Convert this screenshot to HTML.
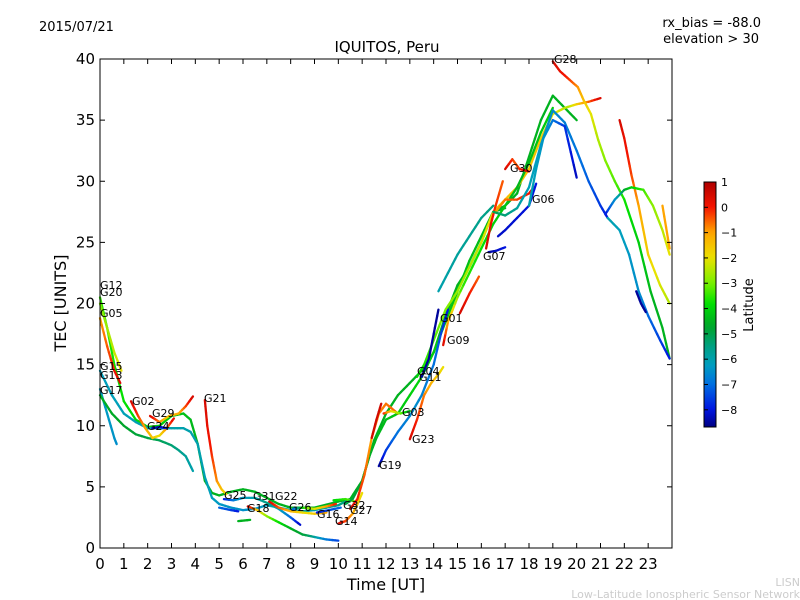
<!DOCTYPE html>
<html><head><meta charset="utf-8"><style>
body{margin:0;background:#fff;}
svg{display:block;font-family:"DejaVu Sans","Liberation Sans",sans-serif;}
</style></head><body>
<svg id="chart" width="800" height="600" viewBox="0 0 800 600">
<defs><linearGradient id="jet" x1="0" y1="1" x2="0" y2="0"></linearGradient></defs>
<rect x="0" y="0" width="800" height="600" fill="#fff"/>
<text x="39" y="31" font-size="13">2015/07/21</text>
<text x="761" y="27" font-size="13" text-anchor="end">rx_bias = -88.0</text>
<text x="759" y="43" font-size="13" text-anchor="end">elevation &gt; 30</text>
<text x="387" y="52" font-size="15" text-anchor="middle">IQUITOS, Peru</text>
<g id="marks"></g>
<rect x="100" y="59" width="572" height="489" fill="none" stroke="#000" stroke-width="1"/>
<g id="axes"></g>
<text x="386" y="590" font-size="16" text-anchor="middle">Time [UT]</text>
<text transform="translate(66,303) rotate(-90)" font-size="16" text-anchor="middle">TEC [UNITS]</text>
<rect x="704" y="182" width="12" height="245" fill="url(#jet)" stroke="#000" stroke-width="1"/>
<g id="cbticks"></g>
<text transform="translate(753,305) rotate(-90)" font-size="13" text-anchor="middle">Latitude</text>
<text x="800" y="586" font-size="11" fill="#ccc" text-anchor="end">LISN</text>
<text x="800" y="598" font-size="11" fill="#ccc" text-anchor="end">Low-Latitude Ionospheric Sensor Network</text>
<g font-size="11" fill="#000">
<text x="100" y="289">G12</text>
<text x="100" y="296">G20</text>
<text x="100" y="317">G05</text>
<text x="100" y="370">G15</text>
<text x="100" y="379">G13</text>
<text x="100" y="394">G17</text>
<text x="132" y="405">G02</text>
<text x="152" y="417">G29</text>
<text x="147" y="430">G24</text>
<text x="204" y="402">G21</text>
<text x="224" y="499">G25</text>
<text x="253" y="500">G31</text>
<text x="275" y="500">G22</text>
<text x="247" y="512">G18</text>
<text x="289" y="511">G26</text>
<text x="317" y="518">G16</text>
<text x="343" y="509">G32</text>
<text x="350" y="514">G27</text>
<text x="335" y="525">G14</text>
<text x="379" y="469">G19</text>
<text x="412" y="443">G23</text>
<text x="402" y="416">G03</text>
<text x="417" y="375">G04</text>
<text x="419" y="381">G11</text>
<text x="447" y="344">G09</text>
<text x="440" y="322">G01</text>
<text x="483" y="260">G07</text>
<text x="532" y="203">G06</text>
<text x="510" y="172">G30</text>
<text x="554" y="63">G28</text>
</g>
</svg>
<script>
const xTicks = [0,1,2,3,4,5,6,7,8,9,10,11,12,13,14,15,16,17,18,19,20,21,22,23];
const yTicks = [0,5,10,15,20,25,30,35,40];
const cbTicks = [1,0,-1,-2,-3,-4,-5,-6,-7,-8];
const trackTimes = [
 [0,0.3,0.6,1,1.5,2,2.5,3,3.5,3.8,4.1,4.4,4.7,5,5.5,6,6.5,7,7.5,8,9,10,10.5,11,11.5,12,12.5,13,13.5,14,14.5,15,15.5,16,16.5,17,17.5,18,18.5,19,19.5,20],
 [0,0.3,0.6,0.9],
 [0,0.3,0.6,0.85],
 [0,0.5,1,1.5,2,2.5,3,3.5,3.8,4.1,4.4,4.7,5,5.5,6,6.5,7,7.5,8,8.5,9,9.5,10,10.3],
 [0,0.3,0.6,0.7],
 [0,0.5,1,1.5,2,2.5,3,3.3,3.6,3.9],
 [1.3,1.6,1.9,2.2,2.5,2.8,3.1],
 [2.1,2.5,2.9,3.3,3.6,3.9],
 [2.2,2.5,2.8],
 [4.4,4.5,4.7,4.9,5.1,5.3],
 [5.2,5.6,6,6.5,7,7.5,8,8.4],
 [5,5.5,5.8],
 [6.2,6.6,7,7.5,8,8.5,9,9.5,10],
 [5.8,6.3],
 [7.1,7.5,8,8.5,9,9.5],
 [8.1,8.5,9,9.5,9.9],
 [9.1,9.6,10.1],
 [10,10.3,10.6,10.8,11],
 [9.8,10.3,10.7],
 [10.3,10.6,11,11.3,11.6,12,12.5,13,13.5,14,14.5,15,15.5,16,16.5,17],
 [10.5,10.8,11.1,11.4,11.7,12,12.5],
 [11.4,11.6,11.8],
 [11.9,12.2,12.6,13],
 [11.7,12,12.5,13,13.5,14,14.3,14.6],
 [13,13.3,13.6,13.9,14.2,14.4],
 [13.3,13.6,14,14.5,15,15.5,16,16.5,17,17.5,18,18.5,19,19.5,20,20.5,21],
 [13.5,13.8,14,14.2],
 [15.1,15.5,15.9],
 [14.4,14.6,15,15.5,16,16.5,17,17.5,18,18.5,19],
 [14.2,14.6,15,15.5,16,16.5],
 [16.3,16.6,17],
 [16.2,16.4,16.6,16.9],
 [17,17.3,17.6,18],
 [16.6,17,17.5,18,18.2],
 [16.5,17,17.5,18,18.5,19,19.5,20,20.5,21,21.3],
 [16.7,17,17.5,18,18.3],
 [18,18.3,18.6,19,19.5,20],
 [19,19.3,19.7,20.05,20.3,20.6,20.9,21.2,21.6,22,22.6,23.1,23.6,23.9],
 [21.8,22,22.3,22.6,23,23.5,23.9],
 [21.2,21.6,22,22.3,22.8,23.2,23.6,23.9],
 [21.3,21.8,22.2,22.6,23,23.5,23.9],
 [22.5,22.7,22.9],
 [23.6,23.9]
];
const trackTec = [
 [20.5,18,15,12,10.5,9.9,10,10.8,11,10.5,8.5,5.5,4.5,4.3,4.6,4.8,4.6,4.1,3.6,3.3,3.3,3.8,4,5.5,8.8,11,12.5,13.5,14.5,16,19,21.5,23,25,27.5,28,29,32,35,37,36,35],
 [20,18,16,14.5],
 [18.8,16.5,14.5,13.5],
 [14.5,12.5,11,10.3,9.8,9.8,9.8,9.8,9.5,8.5,5.8,4.1,3.6,3.3,3.1,3.2,3.5,3.3,3.1,3,3.1,3.3,3.5,3.8],
 [13,11,9,8.5],
 [12.5,11,10,9.3,9,8.8,8.4,8,7.5,6.3],
 [12,10.8,9.8,9,9.2,9.8,10.6],
 [10.8,10.3,10.8,11,11.6,12.4],
 [9.8,9.9,9.8],
 [12.1,10,7.5,5.5,4.8,4.4],
 [4,3.9,4.1,4.1,3.7,3.2,2.5,1.9],
 [3.3,3.1,3],
 [3.4,3.1,2.6,2.1,1.6,1.1,0.9,0.7,0.6],
 [2.2,2.3],
 [3.8,3.3,3.0,2.9,2.8,2.9],
 [3.2,3.3,3.2,3.4,3.6],
 [2.9,3.1,3.3],
 [2,2.2,2.8,3.6,4.5],
 [3.9,4.0,3.8],
 [3.6,4,5.5,7.5,9,10.5,11,12.5,14,16,18.5,21,23.5,25.5,27.5,27.8],
 [3.2,4,6,9,11,11.8,11],
 [9,10.5,11.8],
 [11,11.2,11,11.2],
 [6.7,8,9.5,10.8,12.5,15,17.5,19.5],
 [8.9,10.5,12.5,13.5,14.2,14.8],
 [14,15,17,19.5,21,23,25,27.5,28.5,29.5,31,33.5,35.5,36,36.3,36.5,36.8],
 [14,15.5,17.5,19.5],
 [19.2,20.8,22.2],
 [16.6,18.5,20.5,22.5,24.5,26.5,28,29.5,31.5,34,36],
 [21,22.5,24,25.5,27,28],
 [24.2,24.3,24.6],
 [24.5,26.5,28,30],
 [31,31.8,31,30.8],
 [27.5,28.5,28.5,29,29.5],
 [27.5,27.2,27.8,29.5,33,35.8,34.8,32.5,30,28,27],
 [25.5,26,27,28,29.8],
 [28,31,33.5,35,34.5,30.3],
 [39.8,39,38.3,37.7,36.6,35.5,33.4,31.7,30,28.5,25,21,18,15.5],
 [35,33.5,30.5,28,24,21.5,20],
 [27.3,28.5,29.3,29.5,29.3,28,26,24],
 [27,26,24,21,19,17,15.5],
 [21,20,19.3],
 [28,24.5]
];
const trackLat = [
 [-3.5,-4.5,-4.5,-4.5,-4.5],
 [-3,-2],
 [-1,0.5],
 [-6.2,-6,-6,-6.5,-6,-5.5],
 [-6.2,-6.5],
 [-4.5,-5,-6],
 [0.5,-1,-2,0.3],
 [0.5,-1.5,-1,0.5],
 [-8.5,-8],
 [0.5,0,-1,-2],
 [-8,-6.5,-6,-5.5,-6.5,-8.3],
 [-7,-8],
 [0.5,-2,-3.5,-4.5,-5,-6.5,-7.5],
 [-4.5,-4.5],
 [0.5,-1,-2,-1],
 [-7.5,-3,-1.5,0],
 [-8,-7],
 [0.5,-1,-2],
 [-4,-3],
 [-5,-4,-4.5],
 [0.5,-1,-0.5],
 [0.5],
 [0,-4.5],
 [-8.5,-7,-6.5,-7,-8],
 [0.5,-1,-2],
 [-4,-3,-2.5,-1.5,-1.5,-2.5,0.5],
 [-8.5],
 [0.5,-0.5],
 [0.5,-3.5,-4,-4.5,-4],
 [-6,-5.5],
 [-8.5,-8],
 [0.5,-0.5],
 [0.5,-0.5,0.5],
 [-1,0.3],
 [-5,-6,-6.5,-7,-8],
 [-8.2,-8],
 [-6,-6.5,-8.3],
 [0.5,0,-1,-2,-2.7,-3.3,-4,-4.5,-4.5],
 [0.5,0,-1,-2,-2.5],
 [-8,-4.5,-3,-2],
 [-6,-6.5,-8],
 [-8.5],
 [-1]
];
const latMin = -8.68, latMax = 1.0;
const X0 = 100, XW = 572, Y0 = 548, YH = 489;
function xScale(t){ return X0 + t / 24 * XW; }
function yScale(v){ return Y0 - v / 40 * YH; }
function cbScale(l){ return 427 - (l - latMin) / (latMax - latMin) * 245; }
const cmap = [[-8.68,0,0,130],[-8,0,20,225],[-7,0,110,225],[-6.2,0,160,190],[-5.5,0,160,130],[-4.7,0,165,40],[-3.8,0,225,0],[-3,120,240,0],[-2,235,225,0],[-1,255,165,0],[0,245,20,0],[1,175,0,0]];
function latColor(l){
  if (l <= cmap[0][0]) l = cmap[0][0];
  if (l >= cmap[cmap.length-1][0]) l = cmap[cmap.length-1][0];
  for (let i = 0; i < cmap.length - 1; i++) {
    const a = cmap[i], b = cmap[i+1];
    if (l >= a[0] && l <= b[0]) {
      const f = (l - a[0]) / (b[0] - a[0]);
      return 'rgb(' + Math.round(a[1]+(b[1]-a[1])*f) + ',' + Math.round(a[2]+(b[2]-a[2])*f) + ',' + Math.round(a[3]+(b[3]-a[3])*f) + ')';
    }
  }
  return '#000';
}
function latAt(lats, frac){
  if (lats.length === 1) return lats[0];
  const p = frac * (lats.length - 1), i = Math.min(Math.floor(p), lats.length - 2), f = p - i;
  return lats[i] * (1 - f) + lats[i+1] * f;
}
const NS = 'http://www.w3.org/2000/svg';
const marks = document.getElementById('marks');
trackTimes.forEach(function(ts, k){
  const vs = trackTec[k], lats = trackLat[k];
  const g = document.createElementNS(NS, 'g');
  
  
  const n = ts.length;
  for (let i = 0; i < n - 1; i++) {
    const sub = 4;
    for (let s = 0; s < sub; s++) {
      const f0 = s / sub, f1 = (s + 1) / sub;
      const ta = ts[i] + (ts[i+1] - ts[i]) * f0, tb = ts[i] + (ts[i+1] - ts[i]) * f1;
      const va = vs[i] + (vs[i+1] - vs[i]) * f0, vb = vs[i] + (vs[i+1] - vs[i]) * f1;
      const frac = (i + (f0 + f1) / 2) / (n - 1);
      const ln = document.createElementNS(NS, 'line');
      ln.setAttribute('x1', xScale(ta)); ln.setAttribute('y1', yScale(va));
      ln.setAttribute('x2', xScale(tb)); ln.setAttribute('y2', yScale(vb));
      ln.setAttribute('stroke', latColor(latAt(lats, frac)));
      ln.setAttribute('stroke-width', '2.3');
      ln.setAttribute('stroke-linecap', 'round');
      
      
      g.appendChild(ln);
    }
  }
  marks.appendChild(g);
});
const axes = document.getElementById('axes');
function mk(tag, attrs){ const e = document.createElementNS(NS, tag); for (const a in attrs) e.setAttribute(a, attrs[a]); return e; }
xTicks.forEach(function(t){
  const x = xScale(t);
  const t1 = mk('line', {x1:x, y1:548, x2:x, y2:543, stroke:'#000'});
  
  
  axes.appendChild(t1);
  const t2 = mk('line', {x1:x, y1:59, x2:x, y2:64, stroke:'#000'});
  
  
  axes.appendChild(t2);
  const lb = mk('text', {x:x, y:569, 'font-size':15, 'text-anchor':'middle'});
  lb.textContent = t;
  
  
  axes.appendChild(lb);
});
yTicks.forEach(function(v){
  const y = yScale(v);
  const t1 = mk('line', {x1:100, y1:y, x2:105, y2:y, stroke:'#000'});
  
  
  axes.appendChild(t1);
  const t2 = mk('line', {x1:672, y1:y, x2:667, y2:y, stroke:'#000'});
  
  
  axes.appendChild(t2);
  const lb = mk('text', {x:95, y:y+5, 'font-size':15, 'text-anchor':'end'});
  lb.textContent = v;
  
  
  axes.appendChild(lb);
});
const grad = document.getElementById('jet');
for (let i = 0; i <= 40; i++) {
  const l = latMin + (latMax - latMin) * i / 40;
  const st = mk('stop', {offset: (i/40), 'stop-color': latColor(l)});
  grad.appendChild(st);
}
const cbg = document.getElementById('cbticks');
cbTicks.forEach(function(l){
  const y = cbScale(l);
  const tk = mk('line', {x1:704, y1:y, x2:708, y2:y, stroke:'#000'});
  
  
  cbg.appendChild(tk);
  const lb = mk('text', {x:721, y:y+4, 'font-size':11});
  lb.textContent = l < 0 ? '\u2212' + (-l) : l;
  
  
  cbg.appendChild(lb);
});
</script>
</body></html>
